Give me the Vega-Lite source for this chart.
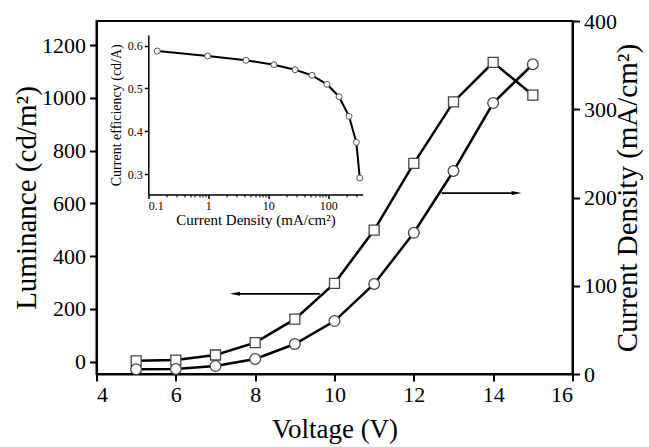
{
  "$schema": "https://vega.github.io/schema/vega-lite/v6.json",
  "width": 476,
  "height": 353,
  "autosize": {"type": "none"},
  "padding": {"left": 96.5, "top": 21, "right": 76.5, "bottom": 73},
  "background": "white",
  "config": {
    "view": {"stroke": "black", "strokeWidth": 2},
    "font": "Liberation Serif",
    "axis": {
      "domainColor": "black", "domainWidth": 2, "tickColor": "black", "tickWidth": 2, "tickSize": 7,
      "labelFont": "Liberation Serif", "titleFont": "Liberation Serif", "labelColor": "black", "titleColor": "black",
      "grid": false, "titleFontWeight": "normal", "labelFontSize": 22, "titleFontSize": 29, "labelPadding": 4
    }
  },
  "datasets": {
    "lum": [
      {"V": 5, "L": 3}, {"V": 6, "L": 6}, {"V": 7, "L": 25}, {"V": 8, "L": 72}, {"V": 9, "L": 161},
      {"V": 10, "L": 297}, {"V": 11, "L": 499}, {"V": 12, "L": 752}, {"V": 13, "L": 985}, {"V": 14, "L": 1135}, {"V": 15, "L": 1011}
    ],
    "jd": [
      {"V": 5, "J": 5.3}, {"V": 6, "J": 5.7}, {"V": 7, "J": 9}, {"V": 8, "J": 17}, {"V": 9, "J": 34},
      {"V": 10, "J": 60}, {"V": 11, "J": 102}, {"V": 12, "J": 160}, {"V": 13, "J": 230}, {"V": 14, "J": 307}, {"V": 15, "J": 351}
    ],
    "eff": [
      {"J": 0.141, "E": 0.5876}, {"J": 0.977, "E": 0.5759}, {"J": 4.25, "E": 0.5659}, {"J": 12.4, "E": 0.5556},
      {"J": 27.9, "E": 0.5439}, {"J": 53.5, "E": 0.5308}, {"J": 95, "E": 0.5098}, {"J": 151, "E": 0.4808},
      {"J": 221, "E": 0.435}, {"J": 293, "E": 0.3743}, {"J": 334, "E": 0.2909}
    ],
    "arrowL": [{"V": 9.63, "V2": 7.49, "L": 257}],
    "arrowJ": [{"V": 12.70, "V2": 14.59, "J": 205}]
  },
  "layer": [
    {
      "data": {"name": "lum"},
      "encoding": {
        "x": {"field": "V", "type": "quantitative", "title": "Voltage (V)",
              "scale": {"domain": [4, 16], "nice": false},
              "axis": {"values": [4, 6, 8, 10, 12, 14, 16], "format": "d", "labelFont": "Liberation Serif", "titleFont": "Liberation Serif", "titleFontSize": 27, "labelPadding": 3, "titlePadding": 11}},
        "y": {"field": "L", "type": "quantitative", "title": "Luminance (cd/m²)",
              "scale": {"domain": [-47, 1292], "nice": false, "zero": false},
              "axis": {"orient": "left", "values": [0, 200, 400, 600, 800, 1000, 1200], "format": "d", "labelFont": "Liberation Serif", "titleFont": "Liberation Serif", "titlePadding": 0}}
      },
      "layer": [
        {"mark": {"type": "line", "color": "black", "strokeWidth": 2.5}},
        {"mark": {"type": "point", "shape": "square", "filled": true, "fill": "white", "stroke": "#444", "strokeWidth": 1.3, "size": 100, "opacity": 1}},
        {"data": {"name": "arrowL"},
         "mark": {"type": "rule", "color": "black", "strokeWidth": 1.8},
         "encoding": {"x": {"field": "V", "type": "quantitative", "title": "Voltage (V)"}, "x2": {"field": "V2"},
                      "y": {"field": "L", "type": "quantitative", "title": "Luminance (cd/m²)"}}},
        {"data": {"name": "arrowL"},
         "mark": {"type": "point", "shape": "M-1,0L1,-0.4L1,0.4Z", "filled": true, "color": "black", "size": 100, "opacity": 1},
         "encoding": {"x": {"field": "V2", "type": "quantitative", "title": "Voltage (V)"},
                      "y": {"field": "L", "type": "quantitative", "title": "Luminance (cd/m²)"}}}
      ]
    },
    {
      "data": {"name": "jd"},
      "encoding": {
        "x": {"field": "V", "type": "quantitative", "title": "Voltage (V)",
              "scale": {"domain": [4, 16], "nice": false}, "axis": null},
        "y": {"field": "J", "type": "quantitative", "title": "Current Density (mA/cm²)",
              "scale": {"domain": [0, 400], "nice": false},
              "axis": {"orient": "right", "values": [0, 100, 200, 300, 400], "format": "d", "labelFont": "Liberation Serif", "titleFont": "Liberation Serif", "titleAngle": 270, "titlePadding": 26}}
      },
      "layer": [
        {"mark": {"type": "line", "color": "black", "strokeWidth": 2.5}},
        {"mark": {"type": "point", "shape": "circle", "filled": true, "fill": "white", "stroke": "#444", "strokeWidth": 1.3, "size": 115, "opacity": 1}},
        {"data": {"name": "arrowJ"},
         "mark": {"type": "rule", "color": "black", "strokeWidth": 1.8},
         "encoding": {"x": {"field": "V", "type": "quantitative", "title": "Voltage (V)"}, "x2": {"field": "V2"},
                      "y": {"field": "J", "type": "quantitative", "title": "Current Density (mA/cm²)"}}},
        {"data": {"name": "arrowJ"},
         "mark": {"type": "point", "shape": "M1,0L-1,-0.4L-1,0.4Z", "filled": true, "color": "black", "size": 100, "opacity": 1},
         "encoding": {"x": {"field": "V2", "type": "quantitative", "title": "Voltage (V)"},
                      "y": {"field": "J", "type": "quantitative", "title": "Current Density (mA/cm²)"}}}
      ]
    },
    {
      "data": {"name": "eff"},
      "encoding": {
        "x": {"field": "J", "type": "quantitative", "title": "Current Density (mA/cm²)",
              "scale": {"type": "log", "domain": [0.1, 374], "range": [51.8, 266.2], "nice": false},
              "axis": {"orient": "bottom", "offset": -179.5, "values": [0.1, 1, 10, 100], "format": "~g",
                       "labelFontSize": 12, "titleFontSize": 15, "tickSize": 4, "tickWidth": 1.5, "domainWidth": 1.5,
                       "labelPadding": 2, "titlePadding": 1, "zindex": 1}},
        "y": {"field": "E", "type": "quantitative", "title": "Current efficiency (cd/A)",
              "scale": {"domain": [0.2523, 0.625], "range": [173.5, 14], "nice": false, "zero": false},
              "axis": {"orient": "left", "offset": -51.8, "values": [0.3, 0.4, 0.5, 0.6], "format": ".1f",
                       "labelFontSize": 12, "titleFontSize": 14, "tickSize": 4, "tickWidth": 1.5, "domainWidth": 1.5,
                       "labelPadding": 2, "titlePadding": 4, "zindex": 1}}
      },
      "layer": [
        {"data": {"values": [{}]},
         "mark": {"type": "rect", "fill": "white", "stroke": "black", "strokeWidth": 1.8},
         "encoding": {"x": {"datum": 0.1, "type": "quantitative"}, "x2": {"datum": 374},
                      "y": {"datum": 0.2523, "type": "quantitative"}, "y2": {"datum": 0.625}}},
        {"mark": {"type": "line", "color": "black", "strokeWidth": 2}},
        {"mark": {"type": "point", "shape": "circle", "filled": true, "fill": "white", "stroke": "#555", "strokeWidth": 1, "size": 36, "opacity": 1}}
      ]
    },
    {
      "data": {"name": "eff"},
      "encoding": {
        "x": {"field": "J", "type": "quantitative",
              "scale": {"type": "log", "domain": [0.1, 374], "range": [51.8, 266.2], "nice": false},
              "axis": {"orient": "bottom", "offset": -179.5, "title": null, "labels": false, "domain": false,
                       "values": [0.2, 0.3, 0.4, 0.5, 0.6, 0.7, 0.8, 0.9, 2, 3, 4, 5, 6, 7, 8, 9, 20, 30, 40, 50, 60, 70, 80, 90, 200, 300],
                       "tickSize": 2.5, "tickWidth": 1, "zindex": 1}},
        "y": {"field": "E", "type": "quantitative",
              "scale": {"domain": [0.2523, 0.625], "range": [173.5, 14], "nice": false, "zero": false}, "axis": null}
      },
      "mark": {"type": "point", "opacity": 0}
    }
  ],
  "resolve": {"scale": {"x": "independent", "y": "independent"}, "axis": {"x": "independent", "y": "independent"}}
}
